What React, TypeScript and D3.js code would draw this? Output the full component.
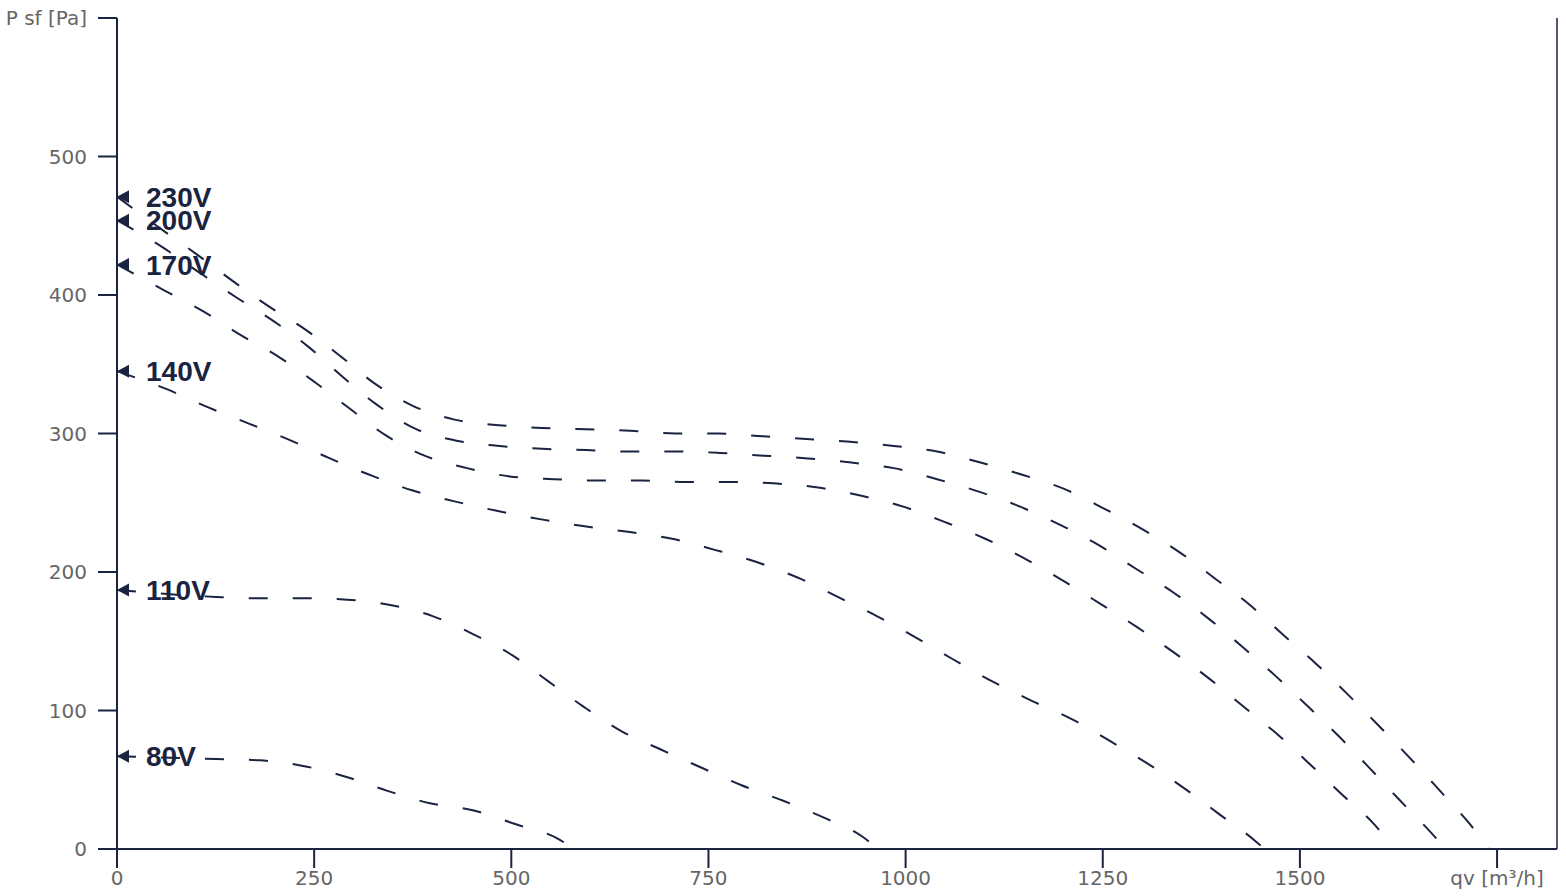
import React from "react";
import * as d3 from "d3";

// ---- data ----
const seriesNames = ["230V", "200V", "170V", "140V", "110V", "80V"];

const qv230 = [0, 55, 102, 147, 192, 239, 283, 327, 375, 428, 484, 539, 595, 651, 708, 763, 819, 874, 930, 985, 1040, 1095, 1149, 1201, 1251, 1300, 1348, 1393, 1437, 1478, 1520, 1560, 1600, 1639, 1676, 1714, 1740];
const p230 = [471, 448, 429, 410, 392, 375, 356, 336, 320, 310, 306, 304, 303, 302, 300, 300, 298, 296, 294, 291, 287, 279, 270, 260, 246, 231, 214, 195, 176, 155, 134, 112, 89, 66, 43, 19, 0];

const qv200 = [0, 59, 105, 152, 199, 244, 286, 329, 376, 429, 485, 539, 595, 651, 708, 764, 820, 876, 931, 985, 1040, 1093, 1146, 1196, 1246, 1293, 1340, 1385, 1427, 1469, 1510, 1550, 1589, 1627, 1666, 1685];
const p200 = [454, 434, 416, 398, 381, 362, 341, 321, 304, 295, 291, 289, 288, 287, 287, 286, 284, 282, 279, 275, 267, 258, 247, 234, 219, 202, 185, 166, 146, 125, 103, 81, 58, 35, 12, 0];

const qv170 = [0, 61, 110, 157, 206, 251, 295, 340, 390, 444, 498, 554, 610, 666, 721, 777, 833, 889, 944, 998, 1050, 1101, 1150, 1199, 1247, 1294, 1340, 1385, 1428, 1471, 1513, 1554, 1594, 1620];
const p170 = [422, 403, 388, 371, 355, 337, 318, 299, 284, 275, 269, 267, 266, 266, 265, 265, 264, 261, 255, 247, 236, 224, 210, 194, 177, 160, 142, 123, 103, 83, 61, 39, 18, 0];

const qv140 = [0, 63, 115, 168, 220, 270, 321, 374, 428, 483, 538, 593, 648, 704, 758, 812, 863, 914, 964, 1012, 1060, 1110, 1160, 1210, 1259, 1306, 1353, 1398, 1443, 1455];
const p140 = [345, 332, 319, 307, 295, 282, 270, 259, 251, 244, 238, 233, 229, 224, 216, 207, 196, 182, 168, 153, 137, 121, 107, 94, 78, 62, 44, 25, 6, 0];

const qv110 = [0, 126, 181, 236, 292, 348, 401, 452, 501, 547, 591, 640, 689, 740, 792, 844, 895, 945, 965];
const p110 = [187, 182, 181, 181, 180, 176, 168, 155, 140, 121, 103, 85, 72, 59, 46, 35, 23, 9, 0];

const qv80 = [0, 126, 181, 236, 291, 343, 397, 451, 505, 557, 580];
const p80 = [67, 65, 64, 60, 52, 42, 33, 28, 18, 8, 0];

const xTickValues = [0, 250, 500, 750, 1000, 1250, 1500, 1750];
const xTickLabels = ["0", "250", "500", "750", "1000", "1250", "1500", "qv [m³/h]"];
const yTickValues = [0, 100, 200, 300, 400, 500, 600];
const yTickLabels = ["0", "100", "200", "300", "400", "500", "P sf [Pa]"];

// ---- style ----
const INK = "#1a2340";
const GREY = "#666666";
const TICK_FONT = "'DejaVu Sans', Verdana, sans-serif";
const LABEL_FONT = "'Liberation Sans', Arial, sans-serif";

export default function App() {
  const W = 1566;
  const H = 896;
  const x = d3.scaleLinear().domain([0, 1826]).range([117, 1557]);
  const y = d3.scaleLinear().domain([0, 600]).range([849, 18]);

  const seriesQ = [qv230, qv200, qv170, qv140, qv110, qv80];
  const seriesP = [p230, p200, p170, p140, p110, p80];

  const line = d3
    .line<[number, number]>()
    .x((d) => x(d[0]))
    .y((d) => y(d[1]))
    .curve(d3.curveMonotoneX);

  const x0 = x(0);
  const yBottom = y(0);
  const yTop = y(600);
  const xRight = x(1826);

  return (
    <div style={{ position: "fixed", left: 0, top: 0, width: W, height: H, background: "#fff" }}>
      <svg width={W} height={H} style={{ display: "block" }}>
        {/* curves */}
        {seriesQ.map((qs, i) => {
          const pts: [number, number][] = qs.map((q, j) => [q, seriesP[i][j]]);
          return (
            <path
              key={"c" + i}
              d={line(pts) || ""}
              fill="none"
              stroke={INK}
              strokeWidth={2}
              strokeDasharray="19,25"
            />
          );
        })}

        {/* axes */}
        <line x1={x0} y1={yTop} x2={x0} y2={yBottom} stroke={INK} strokeWidth={2} />
        <line x1={x0 - 19} y1={yBottom} x2={xRight} y2={yBottom} stroke={INK} strokeWidth={2} />
        <line x1={xRight} y1={yTop} x2={xRight} y2={yBottom} stroke={INK} strokeWidth={1.5} />

        {yTickValues.map((v, i) => (
          <g key={"yt" + i}>
            <line x1={x0 - 19} x2={x0} y1={y(v)} y2={y(v)} stroke={INK} strokeWidth={2} />
            <text
              x={x0 - 30}
              y={y(v)}
              dy="0.35em"
              textAnchor="end"
              fill={GREY}
              fontFamily={TICK_FONT}
              fontSize={20}
            >
              {yTickLabels[i]}
            </text>
          </g>
        ))}

        {xTickValues.map((v, i) => (
          <g key={"xt" + i}>
            <line x1={x(v)} x2={x(v)} y1={yBottom} y2={yBottom + 19} stroke={INK} strokeWidth={2} />
            <text
              x={x(v)}
              y={yBottom + 29}
              dy="0.35em"
              textAnchor="middle"
              fill={GREY}
              fontFamily={TICK_FONT}
              fontSize={20}
            >
              {xTickLabels[i]}
            </text>
          </g>
        ))}

        {/* start markers and labels */}
        {seriesNames.map((name, i) => {
          const yy = y(seriesP[i][0]);
          return (
            <g key={"l" + i}>
              <path
                d={`M${x0},${yy} L${x0 + 12},${yy - 6.5} L${x0 + 12},${yy + 6.5} Z`}
                fill={INK}
              />
              <text
                x={146}
                y={yy}
                dy="0.36em"
                fill={INK}
                fontFamily={LABEL_FONT}
                fontWeight="bold"
                fontSize={28}
              >
                {name}
              </text>
            </g>
          );
        })}
      </svg>
    </div>
  );
}
